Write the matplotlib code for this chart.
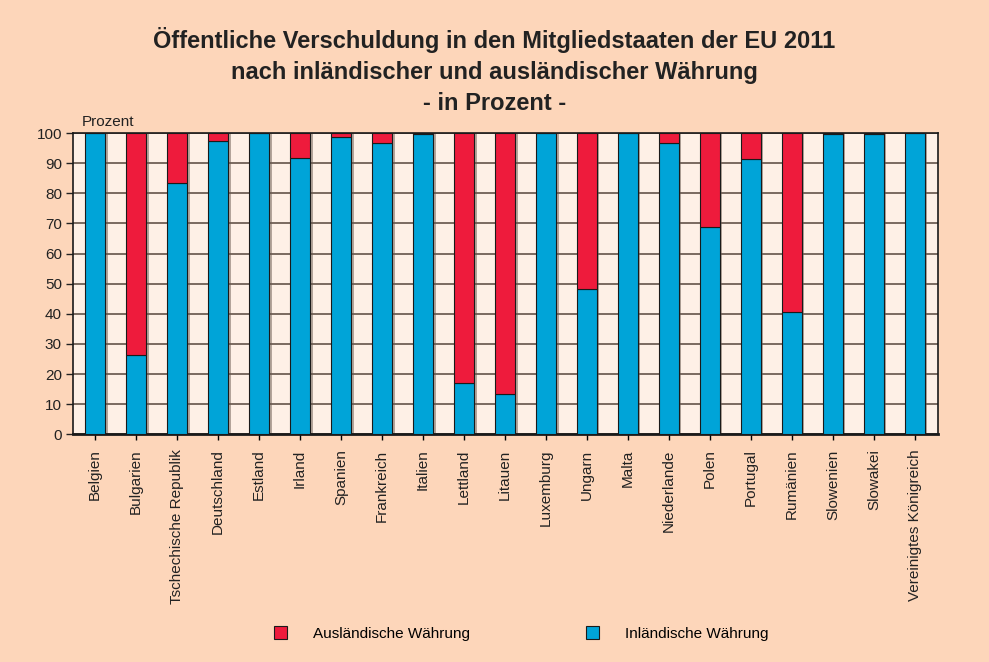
import numpy as np
import matplotlib.pyplot as plt
from matplotlib.patches import Patch

plt.rcParams['font.family'] = ['Liberation Sans', 'DejaVu Sans']

laender = ['Belgien', 'Bulgarien', 'Tschechische Republik', 'Deutschland', 'Estland',
           'Irland', 'Spanien', 'Frankreich', 'Italien', 'Lettland', 'Litauen',
           'Luxemburg', 'Ungarn', 'Malta', 'Niederlande', 'Polen', 'Portugal',
           'Rumänien', 'Slowenien', 'Slowakei', 'Vereinigtes Königreich']
inlaendisch = [100, 26.2, 83.5, 97.4, 100, 91.8, 98.8, 96.8, 99.8, 17.0, 13.4,
               100, 48.2, 100, 96.8, 68.9, 91.4, 40.5, 99.7, 99.7, 100]
auslaendisch = [100 - v for v in inlaendisch]

bg = '#FDD6BA'
blau = '#00A4D8'
rot = '#EE1B3C'

fig = plt.figure(figsize=(9.89, 6.62), dpi=100, facecolor=bg)
ax = fig.add_axes([0.0738, 0.344, 0.8745, 0.455])
ax.set_facecolor('#FEF0E6')

x = np.arange(len(laender))
w = 0.49
# leichter Schatten hinter den Säulen
ax.bar(x + 0.06, inlaendisch, w, color='#6a5a50', alpha=0.5, zorder=2, linewidth=0)
ax.bar(x + 0.06, auslaendisch, w, bottom=inlaendisch, color='#6a5a50', alpha=0.5,
       zorder=2, linewidth=0)
ax.bar(x, inlaendisch, w, color=blau, edgecolor='#1a1a1a', linewidth=0.8, zorder=3)
ax.bar(x, auslaendisch, w, bottom=inlaendisch, color=rot, edgecolor='#1a1a1a',
       linewidth=0.8, zorder=3)

ax.set_xlim(-0.54, len(laender) - 1 + 0.56)
ax.set_ylim(0, 100)
ax.set_yticks(range(0, 101, 10))
ax.yaxis.grid(True, color='#7a6a60', linewidth=1.4, zorder=1)
ax.set_axisbelow(True)
ax.set_xticks(x)
ax.set_xticklabels(laender, rotation=90, fontsize=11, color='#222222')
ax.tick_params(axis='y', labelsize=11, colors='#222222', length=5, width=1, pad=3)
ax.tick_params(axis='x', length=4, width=1, pad=7)
for s in ax.spines.values():
    s.set_color('#1a1a1a')
    s.set_linewidth(1.2)
ax.spines['bottom'].set_linewidth(2)

ax.text(0.01, 1.015, 'Prozent', transform=ax.transAxes, fontsize=11,
        color='#222222', ha='left', va='bottom')

titel = ['Öffentliche Verschuldung in den Mitgliedstaaten der EU 2011',
         'nach inländischer und ausländischer Währung',
         '- in Prozent -']
for ypos, zeile in zip([0.94, 0.891, 0.844], titel):
    fig.text(0.5, ypos, zeile, ha='center', va='center', fontsize=17,
             fontweight='bold', color='#222222')

handles = [Patch(facecolor=rot, edgecolor='#1a1a1a', linewidth=0.8),
           Patch(facecolor=blau, edgecolor='#1a1a1a', linewidth=0.8)]
fig.legend(handles, ['Ausländische Währung', 'Inländische Währung'],
           loc='center', bbox_to_anchor=(0.527, 0.043), ncol=2, frameon=False,
           fontsize=11, handlelength=0.85, handleheight=0.85, handletextpad=1.7,
           columnspacing=7.6)

fig.savefig('out.png', dpi=100, facecolor=bg)
